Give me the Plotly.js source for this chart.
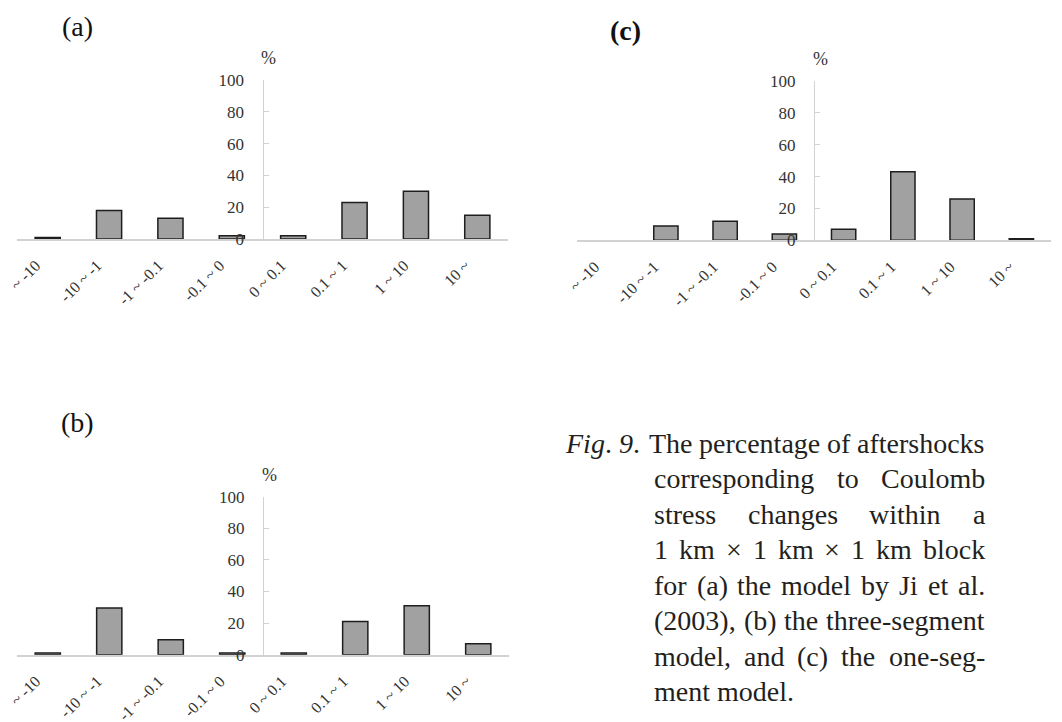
<!DOCTYPE html>
<html>
<head>
<meta charset="utf-8">
<script src="https://cdn.plot.ly/plotly-3.0.1.min.js"></script>
<style>html,body{margin:0;padding:0;background:#fff}</style>
</head>
<body>
<div id="chart" style="width:1062px;height:722px"></div>
<script>
// Coulomb stress change bins (bar)
const categories = ["~ -10", "-10 ~ -1", "-1 ~ -0.1", "-0.1 ~ 0", "0 ~ 0.1", "0.1 ~ 1", "1 ~ 10", "10 ~"];
// Percentage of aftershocks in each bin
const percentA = [1, 18, 13, 2, 2, 23, 30, 15];   // (a) model by Ji et al. (2003)
const percentB = [1, 29.5, 9.5, 1, 1, 21, 31, 7]; // (b) three-segment model
const percentC = [0, 9, 12, 4, 7, 43, 26, 1];     // (c) one-segment model
const yTicks = [0, 20, 40, 60, 80, 100];
const panelLabels = ["(a)", "(b)", "<b>(c)</b>"];
const unitLabel = "%";
const captionLead = "<i>Fig</i>. <i>9</i>.";
const captionLines = [
  "The percentage of aftershocks",
  "corresponding to Coulomb",
  "stress changes within a",
  "1 km \u00d7 1 km \u00d7 1 km block",
  "for (a) the model by Ji et al.",
  "(2003), (b) the three-segment",
  "model, and (c) the one-seg-",
  "ment model."
];

const W = 1062, H = 722;
const px = v => v / W;
const py = v => 1 - v / H;

const SERIF = "'Liberation Serif', 'Times New Roman', Times, serif";
const AXIS_GREY = "#d2d2d2";
const TEXT = "#333333";

// pixel boxes of the three plot areas: left, right, zero line, 100 line
const panels = [
  {key: "", data: percentA, x0: 17,  x1: 508,  yZero: 239,   yTop: 80},
  {key: "3", data: percentB, x0: 17, x1: 509,  yZero: 654.7, yTop: 496.7},
  {key: "2", data: percentC, x0: 577, x1: 1051, yZero: 240.3, yTop: 81}
];

const traces = [];
const layout = {
  width: W, height: H,
  margin: {l: 0, r: 0, t: 0, b: 0},
  paper_bgcolor: "#fff", plot_bgcolor: "rgba(0,0,0,0)",
  showlegend: false,
  bargap: 0.59,
  font: {family: SERIF, color: TEXT},
  annotations: []
};

panels.forEach(p => {
  const xa = "x" + p.key, ya = "y" + p.key;
  traces.push({
    type: "bar", x: categories, y: p.data, xaxis: xa, yaxis: ya,
    marker: {
      color: "#a1a1a1",
      // an empty bin gets no outline
      line: {color: "#1e1e1e", width: p.data.map(v => (v > 0 ? 1.5 : 0))}
    },
    hoverinfo: "x+y"
  });
  const xd = [px(p.x0), px(p.x1)];
  // vertical axis sits between the negative and positive bins
  const axisPos = xd[0] + (4 / 8) * (xd[1] - xd[0]);
  layout["xaxis" + p.key] = {
    domain: xd, anchor: ya, range: [-0.5, 7.5], type: "category",
    showline: true, linecolor: AXIS_GREY, linewidth: 2,
    ticks: "", tickangle: -45, ticklabelstandoff: 9, ticklabelshift: -12,
    tickfont: {family: SERIF, size: 16, color: TEXT},
    showgrid: false, zeroline: false, fixedrange: true
  };
  layout["yaxis" + p.key] = {
    domain: [py(p.yZero), py(p.yTop)], range: [0, 100],
    anchor: "free", position: axisPos,
    tickvals: yTicks, ticks: "inside", ticklen: 5, tickcolor: AXIS_GREY,
    showline: true, linecolor: AXIS_GREY, linewidth: 1,
    ticklabelstandoff: 15,
    tickfont: {family: SERIF, size: 17, color: TEXT},
    showgrid: false, zeroline: false, fixedrange: true
  };
  layout.annotations.push({
    xref: "paper", yref: "paper", x: axisPos + px(6), y: py(p.yTop - 22),
    text: unitLabel, showarrow: false, xanchor: "center", yanchor: "middle",
    font: {family: SERIF, size: 18, color: TEXT}
  });
});

// panel letters
[[77, 27, 0], [77, 423, 1], [625, 30, 2]].forEach(([x, y, i]) => {
  layout.annotations.push({
    xref: "paper", yref: "paper", x: px(x), y: py(y),
    text: panelLabels[i], showarrow: false, xanchor: "center", yanchor: "middle",
    font: {family: SERIF, size: 28, color: "#111"}
  });
});

// caption, set as a justified block
const CAP_SIZE = 28;
const measure = (() => {
  const ctx = document.createElement("canvas").getContext("2d");
  ctx.font = CAP_SIZE + "px " + SERIF;
  return s => ctx.measureText(s).width;
})();
const capLeft = 653, capRight = 984;
const lineY = [443, 478, 514, 549, 585, 620, 656, 691];
layout.annotations.push({
  xref: "paper", yref: "paper", x: px(564), y: py(lineY[0]),
  text: captionLead, showarrow: false, xanchor: "left", yanchor: "middle",
  borderpad: 0, font: {family: SERIF, size: CAP_SIZE, color: "#231f20"}
});
captionLines.forEach((line, i) => {
  const left = i === 0 ? 648 : capLeft;
  const words = line.split(" ");
  const justify = i < captionLines.length - 1 && words.length > 1;
  const widths = words.map(measure);
  const total = widths.reduce((a, b) => a + b, 0);
  const gap = justify ? (capRight - left - total) / (words.length - 1) : measure(" ");
  let x = left;
  words.forEach((w, k) => {
    layout.annotations.push({
      xref: "paper", yref: "paper", x: px(x), y: py(lineY[i]),
      text: w, showarrow: false, xanchor: "left", yanchor: "middle",
      borderpad: 0, font: {family: SERIF, size: CAP_SIZE, color: "#231f20"}
    });
    x += widths[k] + gap;
  });
});

Plotly.newPlot("chart", traces, layout, {displayModeBar: false, staticPlot: true});
</script>
</body>
</html>
